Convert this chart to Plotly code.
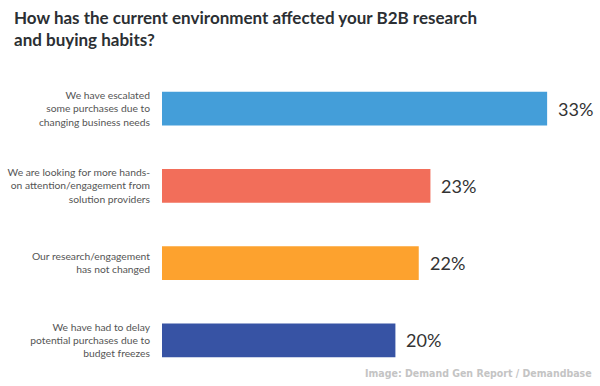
import plotly.graph_objects as go

categories = [
    "We have escalated<br>some purchases due to<br>changing business needs",
    "We are looking for more hands-<br>on attention/engagement from<br>solution providers",
    "Our research/engagement<br>has not changed",
    "We have had to delay<br>potential purchases due to<br>budget freezes",
]
values = [33, 23, 22, 20]
value_labels = ["33%", "23%", "22%", "20%"]
colors = ["#449ed9", "#f26e5a", "#fda22e", "#3753a4"]

title_text = "How has the current environment affected your B2B research<br>and buying habits?"
source_text = "Image: Demand Gen Report / Demandbase"

fig = go.Figure()
fig.add_trace(go.Bar(
    x=values,
    y=categories,
    orientation="h",
    marker=dict(color=colors, line=dict(width=0)),
    width=0.44,
    hoverinfo="skip",
))

for cat, v, lab in zip(categories, values, value_labels):
    fig.add_annotation(
        x=v, y=cat, text=lab, showarrow=False,
        xanchor="left", yanchor="middle", xshift=9,
        font=dict(family="Lato, 'Open Sans', sans-serif", size=18, color="#333333", weight=400),
    )

# title
fig.add_annotation(
    text=title_text, showarrow=False, align="left",
    xref="paper", yref="paper", x=0, y=1,
    xanchor="left", yanchor="top", xshift=-150, yshift=65,
    font=dict(family="Lato, 'Open Sans', sans-serif", size=17, color="#2b2f33", weight="bold"),
)

# source
fig.add_annotation(
    text=source_text, showarrow=False,
    xref="paper", yref="paper", x=1, y=0,
    xanchor="right", yanchor="middle",
    xshift=-6, yshift=6,
    font=dict(family="'Liberation Sans Narrow', 'DejaVu Sans Condensed', sans-serif",
              size=10.5, color="#c4c4c4", weight="bold"),
)

fig.update_layout(
    width=600, height=386,
    margin=dict(l=162, r=0, t=70, b=7, autoexpand=False),
    paper_bgcolor="white", plot_bgcolor="white",
    showlegend=False,
    xaxis=dict(range=[0, 37.53], visible=False, fixedrange=True),
    yaxis=dict(
        autorange="reversed", showgrid=False, zeroline=False, showline=False,
        automargin=False, fixedrange=True,
        ticks="", ticklabelstandoff=11,
        tickfont=dict(family="Lato, 'Open Sans', sans-serif", size=10.3, color="#555555"),
    ),
)

fig.write_html(
    "out.html",
    config={"displayModeBar": False},
    post_script="document.body.style.margin='0';document.body.style.overflow='hidden';",
)
